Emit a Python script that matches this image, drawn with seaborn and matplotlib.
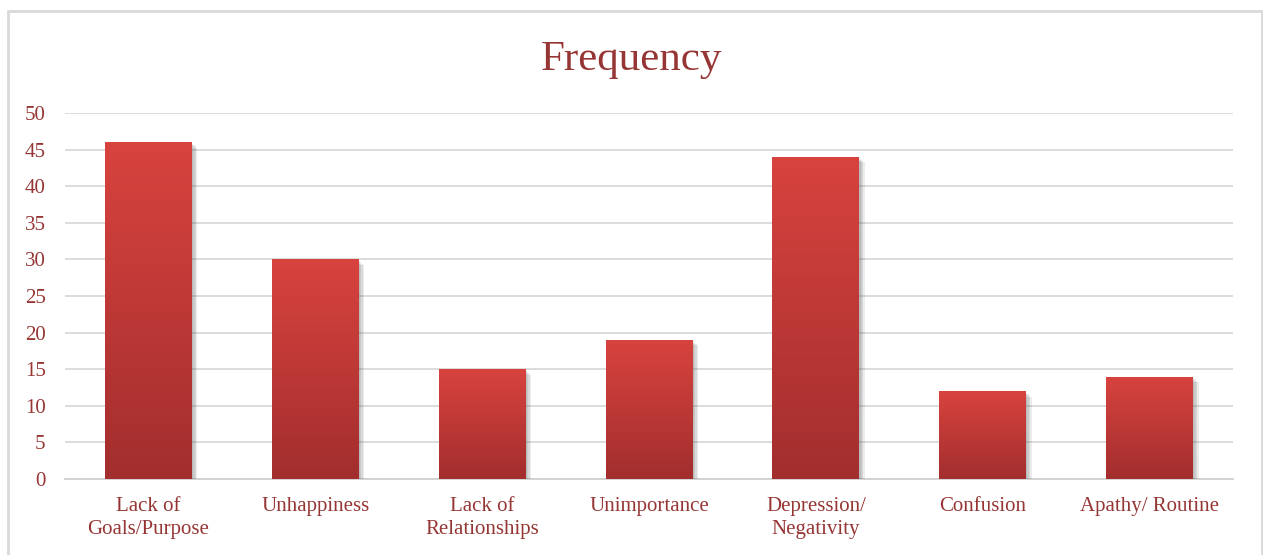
import numpy as np
import pandas as pd
import seaborn as sns
import matplotlib.pyplot as plt
from matplotlib.patches import Rectangle
import matplotlib.patheffects as pe

categories = ["Lack of\nGoals/Purpose", "Unhappiness", "Lack of\nRelationships",
              "Unimportance", "Depression/\nNegativity", "Confusion", "Apathy/ Routine"]
frequency = [46, 30, 15, 19, 44, 12, 14]
yticks = [0, 5, 10, 15, 20, 25, 30, 35, 40, 45, 50]

text_color = "#963634"
top_color = "#d8433e"
bottom_color = "#a22e2e"

sns.set_theme(style="white")
plt.rcParams["font.family"] = ["Liberation Serif", "DejaVu Serif"]

df = pd.DataFrame({"category": categories, "frequency": frequency})

fig = plt.figure(figsize=(12.63, 5.55), dpi=100)
ax = fig.add_axes([65 / 1263, 1 - 479 / 555, (1233 - 65) / 1263, (479 - 113) / 555])

sns.barplot(data=df, x="category", y="frequency", color=top_color,
            width=0.52, ax=ax, zorder=3)

# vertical gradient inside each bar + soft shadow
grad = np.linspace(0, 1, 256).reshape(-1, 1)
cmap = sns.blend_palette([bottom_color, top_color], as_cmap=True)
shadow = [pe.SimplePatchShadow(offset=(d, -d), shadow_rgbFace="#444444", alpha=0.1)
          for d in (4, 3, 2, 1)]
for bar in ax.patches:
    bar.set_edgecolor("none")
    bar.set_path_effects(shadow + [pe.Normal()])
    x0, y0 = bar.get_x(), bar.get_y()
    w, h = bar.get_width(), bar.get_height()
    im = ax.imshow(grad, cmap=cmap, aspect="auto", origin="lower",
                   extent=(x0, x0 + w, y0, y0 + h), zorder=4)
    im.set_clip_path(bar)

ax.set_xlim(-0.5, len(categories) - 0.5)
ax.set_ylim(0, 50)
ax.set_yticks(yticks)
ax.yaxis.grid(True, color="#d9d9d9", linewidth=1.3, zorder=0)
ax.set_axisbelow(True)
for s in ["top", "right", "left"]:
    ax.spines[s].set_visible(False)
ax.spines["bottom"].set_color("#d0d0d0")
ax.spines["bottom"].set_linewidth(1.3)

ax.tick_params(axis="both", length=0, labelsize=15, labelcolor=text_color)
ax.tick_params(axis="y", pad=14)
ax.tick_params(axis="x", pad=13)
ax.set_xlabel("")
ax.set_ylabel("")
for lab in ax.get_xticklabels():
    lab.set_linespacing(1.25)

fig.text(0.5, 1 - 60 / 555, "Frequency", ha="center", va="center",
         fontsize=31, color=text_color)

# outer chart border
fig.patches.append(Rectangle((8 / 1263, -0.05), (1262 - 8) / 1263, 1.05 - 11 / 555,
                             transform=fig.transFigure, fill=False,
                             edgecolor="#d9d9d9", linewidth=2))

fig.savefig("out.png", dpi=100)
